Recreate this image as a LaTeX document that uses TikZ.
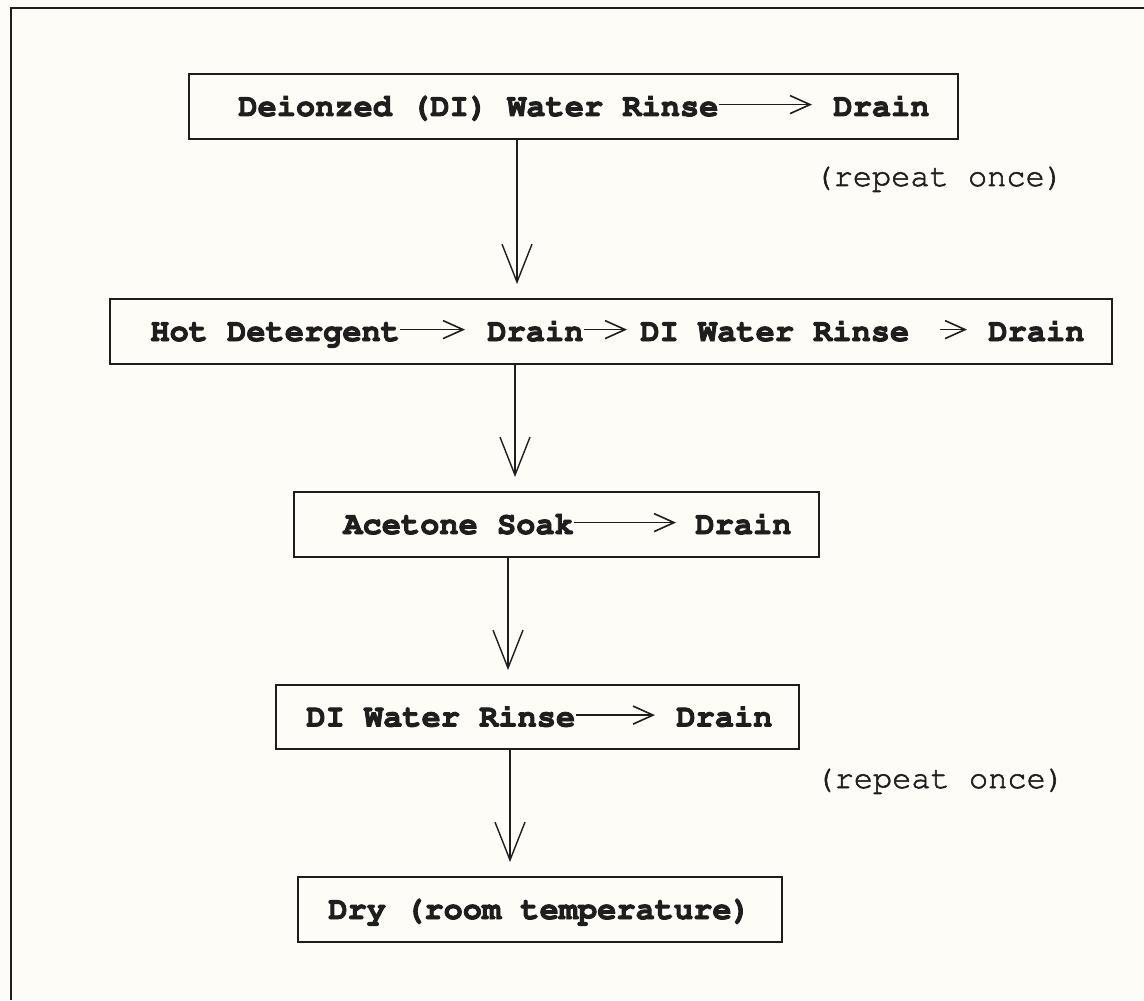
\documentclass[tikz,border=0pt]{standalone}
\usepackage[T1]{fontenc}
\usepackage{courier}
\usetikzlibrary{arrows.meta}
\definecolor{paper}{RGB}{253,252,247}
\definecolor{ink}{RGB}{30,30,30}
\newcommand\heavytext[2]{\special{pdf:literal direct 2 Tr #1 w}#2\special{pdf:literal direct 0 Tr}}
\begin{document}
\begin{tikzpicture}[x=0.5pt,y=-0.5pt,
  boxnode/.style={draw=ink, line width=1pt, rectangle, inner sep=0pt},
  steptext/.style={font=\ttfamily\bfseries\fontsize{16pt}{18pt}\selectfont, text=ink, inner sep=0pt, anchor=base west, text height=9.4pt, text depth=0pt},
  note/.style={font=\ttfamily\fontsize{16pt}{18pt}\selectfont, text=ink, inner sep=0pt, anchor=base west},
  flow/.style={draw=ink, line width=0.7pt, -{Straight Barb[length=19pt,width=15pt,line width=0.7pt]}, shorten >=7pt},
  txtarrow/.style={draw=ink, line width=0.8pt, -{Straight Barb[length=10pt,width=9pt,line width=0.8pt]}}
]
\fill[paper] (0,0) rectangle (1144,1000);
\useasboundingbox (0,0) rectangle (1144,1000);

% frame
\coordinate (fbl) at (11,1000);
\coordinate (ftl) at (11,8);
\coordinate (ftr) at (1144,8);
\draw[ink, line width=0.8pt] (fbl) -- (ftl) -- (ftr);

% boxes
\node[boxnode, minimum width=384.5pt, minimum height=32.5pt] (box1) at (573.5,106.5) {};
\node[boxnode, minimum width=501pt, minimum height=32.5pt] (box2) at (611,331.5) {};
\node[boxnode, minimum width=262.5pt, minimum height=32.5pt] (box3) at (556.5,524.5) {};
\node[boxnode, minimum width=261.5pt, minimum height=32pt] (box4) at (537.5,717) {};
\node[boxnode, minimum width=242pt, minimum height=32.5pt] (box5) at (540,909.5) {};

% box 1 text
\node[steptext] (t1a) at (238,116) {\heavytext{0.45}{Deionzed (DI) Water Rinse}};
\node[steptext] (t1b) at (833,116) {\heavytext{0.45}{Drain}};
\draw[txtarrow, shorten >=10.5pt] ([yshift=1pt]t1a.east) -- ([yshift=1pt]t1b.west);

% box 2 text
\node[steptext] (t2a) at (150,341) {\heavytext{0.45}{Hot Detergent}};
\node[steptext] (t2b) at (487,341) {\heavytext{0.45}{Drain}};
\node[steptext] (t2c) at (640,341) {\heavytext{0.45}{DI Water Rinse}};
\node[steptext] (t2d) at (988,341) {\heavytext{0.45}{Drain}};
\draw[txtarrow, shorten >=11pt] ([yshift=1pt]t2a.east) -- ([yshift=1pt]t2b.west);
\draw[txtarrow, shorten >=6.5pt] ([yshift=1pt]t2b.east) -- ([yshift=1pt]t2c.west);
\draw[txtarrow, shorten <=15pt, shorten >=10.5pt] ([yshift=1pt]t2c.east) -- ([yshift=1pt]t2d.west);

% box 3 text
\node[steptext] (t3a) at (343,534) {\heavytext{0.45}{Acetone Soak}};
\node[steptext] (t3b) at (695,534) {\heavytext{0.45}{Drain}};
\draw[txtarrow, shorten >=9.5pt] ([yshift=1pt]t3a.east) -- ([yshift=1pt]t3b.west);

% box 4 text
\node[steptext] (t4a) at (306,726.5) {\heavytext{0.45}{DI Water Rinse}};
\node[steptext] (t4b) at (676,726.5) {\heavytext{0.45}{Drain}};
\draw[txtarrow, shorten >=10.5pt] ([yshift=1pt]t4a.east) -- ([yshift=1pt]t4b.west);

% box 5 text
\node[steptext] (t5a) at (328,919) {\heavytext{0.45}{Dry (room temperature)}};

% notes
\node[note] (n1) at (814,186) {\heavytext{0.3}{(repeat once)}};
\node[note] (n2) at (815,788) {\heavytext{0.3}{(repeat once)}};

% connectors
\coordinate (k1) at (517,0);
\coordinate (k2) at (515,0);
\coordinate (k3) at (508,0);
\coordinate (k4) at (510,0);
\draw[flow] (box1.south -| k1) -- (box2.north -| k1);
\draw[flow] (box2.south -| k2) -- (box3.north -| k2);
\draw[flow] (box3.south -| k3) -- (box4.north -| k3);
\draw[flow] (box4.south -| k4) -- (box5.north -| k4);
\end{tikzpicture}
\end{document}
